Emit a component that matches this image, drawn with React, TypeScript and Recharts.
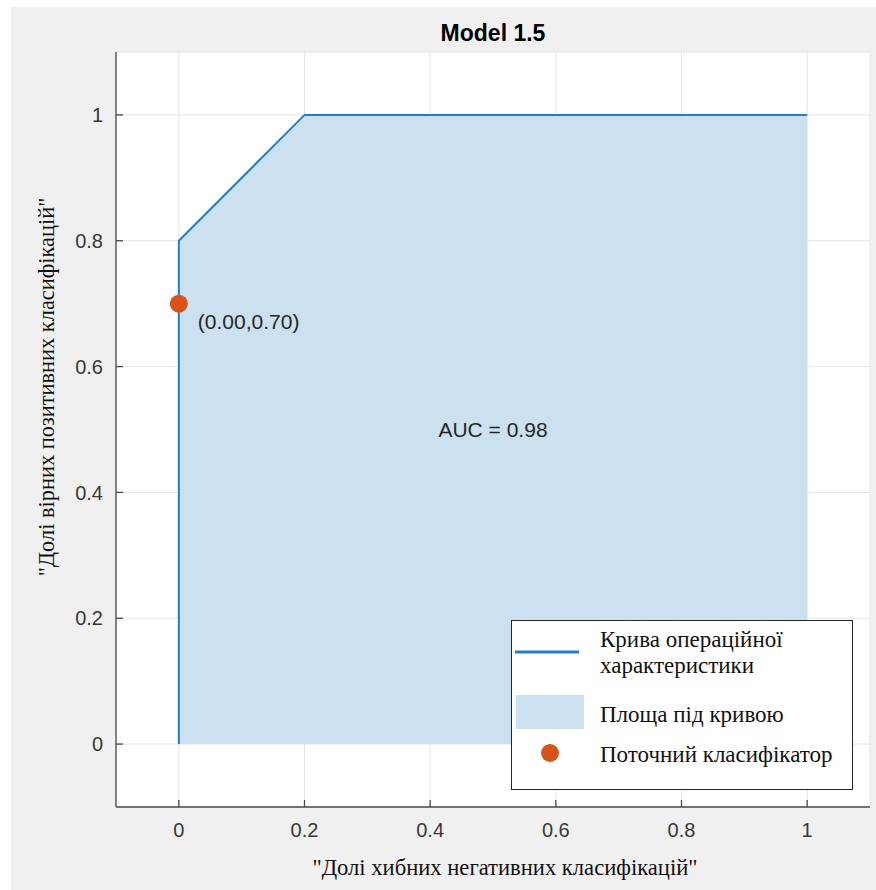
import React from 'react';
import {
  ComposedChart,
  Area,
  Scatter,
  XAxis,
  YAxis,
  CartesianGrid,
  ReferenceDot,
  Legend,
} from 'recharts';

// ROC curve points (false positive rate -> true positive rate)
const rocFpr = [0, 0, 0.2, 1];
const rocTpr = [0, 0.8, 1, 1];

// current classifier operating point
const currentFpr = [0];
const currentTpr = [0.7];

const axisTicks = [0, 0.2, 0.4, 0.6, 0.8, 1];
const axisDomain: [number, number] = [-0.1, 1.1];

const AUC = 0.98;
const aucAt = { fpr: 0.5, tpr: 0.5 };

const TITLE = 'Model 1.5';
const X_LABEL = '"Долі хибних негативних класифікацій"';
const Y_LABEL = '"Долі вірних позитивних класифікацій"';
const LEGEND_LABELS = [
  ['Крива операційної', 'характеристики'],
  ['Площа під кривою'],
  ['Поточний класифікатор'],
];

const COLORS = {
  line: '#1f7ed0',
  area: '#cbe1f0',
  point: '#d95319',
  axis: '#4a4a4a',
  tick: '#383838',
  grid: '#e4e4e4',
  bg: '#f0f0f0',
};

const SANS = '"Liberation Sans", Arial, sans-serif';
const SERIF = '"Liberation Serif", "Times New Roman", serif';

const rocData = rocFpr.map((fpr, i) => ({ fpr, tpr: rocTpr[i] }));
const pointData = currentFpr.map((fpr, i) => ({ fpr, tpr: currentTpr[i] }));

const PointShape = (props: any) => {
  const { cx, cy, payload } = props;
  return (
    <g>
      <circle cx={cx} cy={cy} r={9} fill={COLORS.point} />
      <text
        x={cx + 19}
        y={cy + 18}
        dominantBaseline="central"
        fontSize={21}
        fontFamily={SANS}
        fill="#262626"
      >
        {`(${payload.fpr.toFixed(2)},${payload.tpr.toFixed(2)})`}
      </text>
    </g>
  );
};

const LegendBox = () => (
  <div
    style={{
      width: 342,
      height: 170,
      boxSizing: 'border-box',
      border: '1px solid #262626',
      background: '#fff',
    }}
  >
    <svg width={340} height={168} style={{ display: 'block' }}>
      <g fontFamily={SERIF} fontSize={23} fill="#111">
        <line x1={3} y1={31} x2={67} y2={31} stroke={COLORS.line} strokeWidth={3} />
        <text x={88} y={26}>{LEGEND_LABELS[0][0]}</text>
        <text x={88} y={52}>{LEGEND_LABELS[0][1]}</text>
        <rect x={4} y={74} width={68} height={34} fill={COLORS.area} />
        <text x={88} y={101}>{LEGEND_LABELS[1][0]}</text>
        <circle cx={38} cy={132} r={9} fill={COLORS.point} />
        <text x={88} y={141}>{LEGEND_LABELS[2][0]}</text>
      </g>
    </svg>
  </div>
);

export default function App() {
  return (
    <div
      style={{
        position: 'absolute',
        left: 11,
        top: 7,
        width: 865,
        height: 883,
        background: COLORS.bg,
      }}
    >
      <div
        style={{
          position: 'absolute',
          left: 105,
          top: 14.5,
          width: 754,
          textAlign: 'center',
          fontFamily: SANS,
          fontWeight: 'bold',
          fontSize: 23,
          lineHeight: 1,
          color: '#000',
        }}
      >
        {TITLE}
      </div>
      <ComposedChart
        width={865}
        height={883}
        margin={{ top: 45, right: 6, bottom: 0, left: 0 }}
      >
        <CartesianGrid stroke={COLORS.grid} fill="#ffffff" />
        <XAxis
          type="number"
          dataKey="fpr"
          domain={axisDomain}
          ticks={axisTicks}
          allowDataOverflow
          height={83}
          tickSize={-7}
          tickMargin={23}
          tick={{ fontSize: 20, fill: COLORS.tick, fontFamily: SANS }}
          tickLine={{ stroke: COLORS.axis, strokeWidth: 1.3 }}
          axisLine={{ stroke: COLORS.axis, strokeWidth: 1.3 }}
          tickFormatter={(v: number) => String(v)}
          label={(p: any) => {
            const vb = p.viewBox;
            return (
              <text
                x={vb.x + vb.width / 2 + 12}
                y={vb.y + 68}
                textAnchor="middle"
                fontFamily={SERIF}
                fontSize={22.6}
                fill="#111"
              >
                {X_LABEL}
              </text>
            );
          }}
        />
        <YAxis
          type="number"
          dataKey="tpr"
          domain={axisDomain}
          ticks={axisTicks}
          allowDataOverflow
          width={105}
          tickSize={-7}
          tickMargin={20}
          tick={{ fontSize: 20, fill: COLORS.tick, fontFamily: SANS }}
          tickLine={{ stroke: COLORS.axis, strokeWidth: 1.3 }}
          axisLine={{ stroke: COLORS.axis, strokeWidth: 1.3 }}
          tickFormatter={(v: number) => String(v)}
          label={() => (
            <text
              x={43}
              y={380}
              textAnchor="middle"
              transform="rotate(-90, 43, 380)"
              fontFamily={SERIF}
              fontSize={22.4}
              fill="#111"
            >
              {Y_LABEL}
            </text>
          )}
        />
        <Area
          data={rocData}
          dataKey="tpr"
          type="linear"
          baseValue={0}
          stroke={COLORS.line}
          strokeWidth={2}
          fill={COLORS.area}
          fillOpacity={1}
          dot={false}
          activeDot={false}
          isAnimationActive={false}
        />
        <Scatter
          data={pointData}
          dataKey="tpr"
          shape={<PointShape />}
          isAnimationActive={false}
        />
        <ReferenceDot
          x={aucAt.fpr}
          y={aucAt.tpr}
          r={0}
          fill="none"
          stroke="none"
          label={{
            value: `AUC = ${AUC.toFixed(2)}`,
            position: 'center',
            fontSize: 21,
            fontFamily: SANS,
            fill: '#262626',
          }}
        />
        <Legend
          layout="vertical"
          align="center"
          verticalAlign="middle"
          content={() => <LegendBox />}
          wrapperStyle={{ left: 500, top: 613, width: 342, height: 170 }}
        />
      </ComposedChart>
    </div>
  );
}
